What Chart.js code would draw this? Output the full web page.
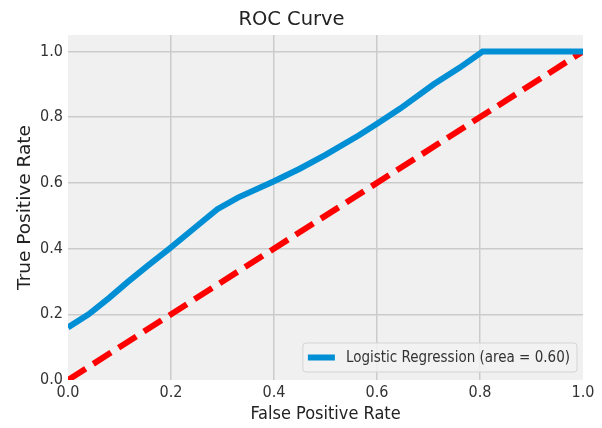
<!DOCTYPE html>
<html>
<head>
<meta charset="utf-8">
<title>ROC Curve</title>
<script src="https://cdn.jsdelivr.net/npm/chart.js@4.4.1/dist/chart.umd.min.js"></script>
<style>
    body { margin: 0; background: #fff; }
    canvas { display: block; }
</style>
</head>
<body>
<canvas id="roc" width="602" height="428"></canvas>
<script>
document.addEventListener('DOMContentLoaded', load);

// ROC curve
const fpr = [0, 0.04, 0.08, 0.115, 0.155, 0.197, 0.245, 0.29, 0.33, 0.4, 0.45, 0.5, 0.565, 0.6, 0.645, 0.71, 0.76, 0.805, 1.0];
const tpr = [0.16, 0.2, 0.25, 0.297, 0.348, 0.4, 0.462, 0.52, 0.555, 0.605, 0.643, 0.685, 0.745, 0.78, 0.826, 0.9, 0.95, 1.0, 1.0];
const chanceX = [0, 1];
const chanceY = [0, 1];
const rocLabel = 'Logistic Regression (area = 0.60)';
const tickValues = [0, 0.2, 0.4, 0.6, 0.8, 1.0];

const NARROW = '"DejaVu Sans Condensed", "DejaVu Sans", sans-serif';
const WIDE = '"DejaVu Sans", sans-serif';

const background = {
    id: 'background',
    beforeDraw(chart) {
        const { ctx, chartArea: a } = chart;
        ctx.save();
        ctx.fillStyle = '#ffffff';
        ctx.fillRect(0, 0, chart.width, chart.height);
        ctx.fillStyle = '#f0f0f0';
        ctx.fillRect(a.left, a.top, a.right - a.left, a.bottom - a.top);
        ctx.restore();
    }
};

// matplotlib style legend box in the lower right corner
const cornerLegend = {
    id: 'cornerLegend',
    afterDraw(chart) {
        const { ctx, chartArea: a } = chart;
        const ds = chart.data.datasets[0];
        ctx.save();
        ctx.font = '15px ' + NARROW;
        const textW = ctx.measureText(ds.label).width;
        const w = 5 + 27 + 11 + textW + 7;
        const h = 29;
        const x = a.right - 6 - w;
        const y = a.bottom - 8 - h;
        ctx.beginPath();
        ctx.roundRect(x, y, w, h, 3);
        ctx.fillStyle = 'rgba(242,242,242,0.85)';
        ctx.fill();
        ctx.strokeStyle = '#d4d4d4';
        ctx.lineWidth = 1;
        ctx.stroke();
        ctx.beginPath();
        ctx.moveTo(x + 5, y + h / 2);
        ctx.lineTo(x + 32, y + h / 2);
        ctx.strokeStyle = ds.borderColor;
        ctx.lineWidth = 6;
        ctx.stroke();
        ctx.fillStyle = '#333';
        ctx.textBaseline = 'middle';
        ctx.fillText(ds.label, x + 43, y + h / 2 + 1);
        ctx.restore();
    }
};

function gridColor(ctx, edges) {
    return edges.includes(ctx.tick.value) ? 'rgba(0,0,0,0)' : '#cbcbcb';
}

function load() {
    const ctx = document.getElementById('roc').getContext('2d');

    const rocPoints = fpr.map((x, i) => ({ x: x, y: tpr[i] }));
    const chancePoints = chanceX.map((x, i) => ({ x: x, y: chanceY[i] }));

    let config = {
        type: 'line',
        data: {
            datasets: [
                {
                    label: rocLabel,
                    data: rocPoints,
                    borderColor: '#008fd5',
                    borderWidth: 6,
                    pointRadius: 0,
                    tension: 0
                },
                {
                    label: 'chance',
                    data: chancePoints,
                    borderColor: '#ff0000',
                    borderWidth: 6,
                    borderDash: [21, 9],
                    pointRadius: 0
                }
            ]
        },
        options: {
            responsive: false,
            animation: false,
            devicePixelRatio: 1,
            layout: { padding: { left: 0, right: 19, top: 0, bottom: 0 } },
            plugins: {
                legend: { display: false },
                tooltip: { enabled: false },
                title: {
                    display: true,
                    text: 'ROC Curve',
                    color: '#222',
                    font: { family: WIDE, size: 19.5, weight: 'normal' },
                    padding: { top: 8, bottom: 3.6 }
                }
            },
            scales: {
                x: {
                    type: 'linear',
                    min: 0,
                    max: 1,
                    afterBuildTicks: (s) => { s.ticks = tickValues.map(v => ({ value: v })); },
                    afterFit: (s) => { s.height = 48; },
                    border: { display: false },
                    grid: { color: (c) => gridColor(c, [0, 1]), lineWidth: 1.5, drawTicks: false },
                    ticks: {
                        padding: 3.4,
                        color: '#333',
                        font: { family: NARROW, size: 16 },
                        callback: (v) => v.toFixed(1)
                    },
                    title: {
                        display: true,
                        text: 'False Positive Rate',
                        color: '#222',
                        font: { family: NARROW, size: 18 },
                        padding: { top: 0, bottom: 3.3 }
                    }
                },
                y: {
                    min: 0,
                    max: 1.05,
                    afterBuildTicks: (s) => { s.ticks = tickValues.map(v => ({ value: v })); },
                    afterFit: (s) => { s.width = 68; },
                    border: { display: false },
                    grid: { color: (c) => gridColor(c, [0]), lineWidth: 1.5, drawTicks: false },
                    ticks: {
                        padding: 5,
                        color: '#333',
                        font: { family: NARROW, size: 16 },
                        callback: (v) => v.toFixed(1)
                    },
                    title: {
                        display: true,
                        text: 'True Positive Rate',
                        color: '#222',
                        font: { family: WIDE, size: 18.5 },
                        padding: { top: 13.9, bottom: 0 }
                    }
                }
            }
        },
        plugins: [background, cornerLegend]
    };

    new Chart(ctx, config);
}
</script>
</body>
</html>
